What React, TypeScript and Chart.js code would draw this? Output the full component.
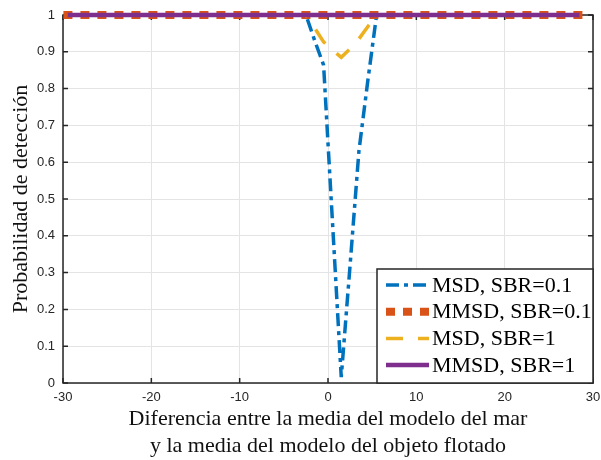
import { useEffect, useRef } from "react";
import { Chart, registerables } from "chart.js";

Chart.register(...registerables);

// Difference between means (x)
const xValues = [
  -29.5, -28.5, -27.5, -26.5, -25.5, -24.5, -23.5, -22.5, -21.5, -20.5,
  -19.5, -18.5, -17.5, -16.5, -15.5, -14.5, -13.5, -12.5, -11.5, -10.5,
  -9.5, -8.5, -7.5, -6.5, -5.5, -4.5, -3.5, -2.5, -1.5, -0.5,
  0.5, 1.5, 2.5, 3.5, 4.5, 5.5, 6.5, 7.5, 8.5, 9.5,
  10.5, 11.5, 12.5, 13.5, 14.5, 15.5, 16.5, 17.5, 18.5, 19.5,
  20.5, 21.5, 22.5, 23.5, 24.5, 25.5, 26.5, 27.5, 28.5,
];

const msdSbr01 = [
  1, 1, 1, 1, 1, 1, 1, 1, 1, 1,
  1, 1, 1, 1, 1, 1, 1, 1, 1, 1,
  1, 1, 1, 1, 1, 1, 1, 1, 0.93, 0.864,
  0.44, 0.016, 0.32, 0.63, 0.82, 1, 1, 1, 1, 1,
  1, 1, 1, 1, 1, 1, 1, 1, 1, 1,
  1, 1, 1, 1, 1, 1, 1, 1, 1,
];

const mmsdSbr01 = [
  1, 1, 1, 1, 1, 1, 1, 1, 1, 1,
  1, 1, 1, 1, 1, 1, 1, 1, 1, 1,
  1, 1, 1, 1, 1, 1, 1, 1, 1, 1,
  1, 1, 1, 1, 1, 1, 1, 1, 1, 1,
  1, 1, 1, 1, 1, 1, 1, 1, 1, 1,
  1, 1, 1, 1, 1, 1, 1, 1, 1,
];

const msdSbr1 = [
  1, 1, 1, 1, 1, 1, 1, 1, 1, 1,
  1, 1, 1, 1, 1, 1, 1, 1, 1, 1,
  1, 1, 1, 1, 1, 1, 1, 1, 0.964, 0.927,
  0.905, 0.885, 0.908, 0.935, 0.968, 1, 1, 1, 1, 1,
  1, 1, 1, 1, 1, 1, 1, 1, 1, 1,
  1, 1, 1, 1, 1, 1, 1, 1, 1,
];

const mmsdSbr1 = [
  1, 1, 1, 1, 1, 1, 1, 1, 1, 1,
  1, 1, 1, 1, 1, 1, 1, 1, 1, 1,
  1, 1, 1, 1, 1, 1, 1, 1, 1, 1,
  1, 1, 1, 1, 1, 1, 1, 1, 1, 1,
  1, 1, 1, 1, 1, 1, 1, 1, 1, 1,
  1, 1, 1, 1, 1, 1, 1, 1, 1,
];

const seriesLabels = ["MSD, SBR=0.1", "MMSD, SBR=0.1", "MSD, SBR=1", "MMSD, SBR=1"];

const xTickValues = [-30, -20, -10, 0, 10, 20, 30];
const xTickLabels = ["-30", "-20", "-10", "0", "10", "20", "30"];
const yTickValues = [0, 0.1, 0.2, 0.3, 0.4, 0.5, 0.6, 0.7, 0.8, 0.9, 1];
const yTickLabels = ["0", "0.1", "0.2", "0.3", "0.4", "0.5", "0.6", "0.7", "0.8", "0.9", "1"];

const xTitle = ["Diferencia entre la media del modelo del mar", "y la media del modelo del objeto flotado"];
const yTitle = "Probabilidad de detección";

const SERIF = '"Liberation Serif", "Times New Roman", serif';
const SANS = '"Liberation Sans", Arial, Helvetica, sans-serif';
const AXIS = "#262626";

const styles = [
  { color: "#0072BD", width: 3.5, dash: [13, 5, 4, 5], cap: "butt" },
  { color: "#D95319", width: 8, dash: [1, 16], cap: "square" },
  { color: "#EDB120", width: 3.5, dash: [17, 15], cap: "butt" },
  { color: "#7E2F8E", width: 4.5, dash: [] as number[], cap: "butt" },
];

const boxPlugin = {
  id: "matlabBox",
  beforeDatasetsDraw(chart: any) {
    const { ctx, chartArea: a, scales } = chart;
    ctx.save();
    ctx.strokeStyle = AXIS;
    ctx.lineWidth = 1.5;
    ctx.strokeRect(a.left, a.top, a.right - a.left, a.bottom - a.top);
    const tl = 5;
    ctx.beginPath();
    for (const v of xTickValues) {
      const px = scales.x.getPixelForValue(v);
      ctx.moveTo(px, a.bottom);
      ctx.lineTo(px, a.bottom - tl);
      ctx.moveTo(px, a.top);
      ctx.lineTo(px, a.top + tl);
    }
    for (const v of yTickValues) {
      const py = scales.y.getPixelForValue(v);
      ctx.moveTo(a.left, py);
      ctx.lineTo(a.left + tl, py);
      ctx.moveTo(a.right, py);
      ctx.lineTo(a.right - tl, py);
    }
    ctx.stroke();
    ctx.restore();
  },
};

const legendPlugin = {
  id: "insideLegend",
  afterDraw(chart: any) {
    const { ctx, chartArea: a } = chart;
    const w = 216;
    const h = 114;
    const left = a.right - w;
    const top = a.bottom - h;
    ctx.save();
    ctx.fillStyle = "#ffffff";
    ctx.fillRect(left, top, w, h);
    ctx.strokeStyle = AXIS;
    ctx.lineWidth = 1.5;
    ctx.strokeRect(left, top, w, h);
    ctx.font = `22px ${SERIF}`;
    ctx.textBaseline = "middle";
    ctx.textAlign = "left";
    seriesLabels.forEach((label, i) => {
      const y = top + 16 + i * 26.7;
      const s = styles[i];
      ctx.strokeStyle = s.color;
      ctx.lineWidth = s.width;
      ctx.lineCap = s.cap as CanvasLineCap;
      ctx.setLineDash(s.dash);
      ctx.beginPath();
      if (s.cap === "square") {
        ctx.moveTo(left + 13, y);
        ctx.lineTo(left + 49, y);
      } else {
        ctx.moveTo(left + 9, y);
        ctx.lineTo(left + 52, y);
      }
      ctx.stroke();
      ctx.setLineDash([]);
      ctx.fillStyle = "#000000";
      ctx.fillText(label, left + 55, y + 1);
    });
    ctx.restore();
  },
};

export default function App() {
  const ref = useRef<HTMLCanvasElement>(null);

  useEffect(() => {
    const series = [msdSbr01, mmsdSbr01, msdSbr1, mmsdSbr1];
    const orders = [4, 3, 2, 1];
    const chart = new Chart(ref.current!, {
      type: "line",
      data: {
        datasets: series.map((vals, i) => ({
          label: seriesLabels[i],
          data: xValues.map((x, j) => ({ x, y: vals[j] })),
          borderColor: styles[i].color,
          backgroundColor: styles[i].color,
          borderWidth: styles[i].width,
          borderDash: styles[i].dash,
          borderCapStyle: styles[i].cap,
          pointRadius: 0,
          tension: 0,
          fill: false,
          order: orders[i],
          clip: 10,
        })) as any,
      },
      options: {
        animation: false,
        responsive: false,
        devicePixelRatio: 1,
        layout: { padding: { top: 15, right: 8, left: 0, bottom: 0 } },
        plugins: { legend: { display: false }, tooltip: { enabled: false } },
        scales: {
          x: {
            type: "linear",
            min: -30,
            max: 30,
            afterFit: (s: any) => {
              s.height = 77;
              s.paddingLeft = 0;
              s.paddingRight = 0;
            },
            afterBuildTicks: (s: any) => {
              s.ticks = xTickValues.map((v) => ({ value: v }));
            },
            grid: { color: "#e4e4e4", lineWidth: 1, drawTicks: false },
            border: { display: false },
            ticks: {
              autoSkip: false,
              maxRotation: 0,
              padding: 7,
              color: AXIS,
              font: { family: SANS, size: 13 },
              callback: (v: any) => xTickLabels[xTickValues.indexOf(Number(v))] ?? "",
            },
            title: {
              display: true,
              text: xTitle,
              color: "#111111",
              font: { family: SERIF, size: 22, lineHeight: 27 / 22 },
              padding: { top: 0, bottom: 0 },
            },
          },
          y: {
            type: "linear",
            min: 0,
            max: 1,
            afterFit: (s: any) => {
              s.width = 63;
              s.paddingTop = 0;
              s.paddingBottom = 0;
            },
            afterBuildTicks: (s: any) => {
              s.ticks = yTickValues.map((v) => ({ value: v }));
            },
            grid: { color: "#e4e4e4", lineWidth: 1, drawTicks: false },
            border: { display: false },
            ticks: {
              padding: 8,
              color: AXIS,
              font: { family: SANS, size: 13 },
              callback: (v: any) => {
                const idx = yTickValues.findIndex((t) => Math.abs(t - Number(v)) < 1e-9);
                return idx >= 0 ? yTickLabels[idx] : "";
              },
            },
            title: {
              display: true,
              text: yTitle,
              color: "#111111",
              font: { family: SERIF, size: 22, lineHeight: 1.2 },
              padding: { top: 8, bottom: 0 },
            },
          },
        },
      },
      plugins: [boxPlugin, legendPlugin],
    });
    return () => chart.destroy();
  }, []);

  return (
    <div style={{ position: "fixed", left: 0, top: 0, width: 601, height: 460, background: "#ffffff" }}>
      <canvas ref={ref} width={601} height={460} style={{ display: "block", width: 601, height: 460 }} />
    </div>
  );
}
